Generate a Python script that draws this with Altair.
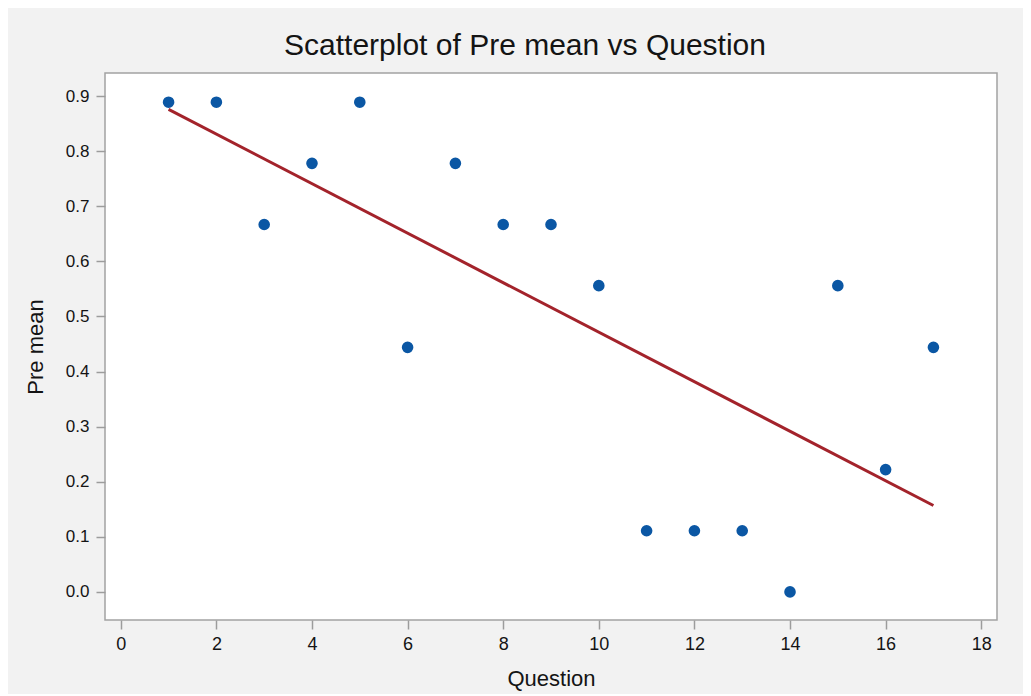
import altair as alt
import pandas as pd

# Data
questions = [1, 2, 3, 4, 5, 6, 7, 8, 9, 10, 11, 12, 13, 14, 15, 16, 17]
pre_mean = [0.889, 0.889, 0.667, 0.778, 0.889, 0.444, 0.778, 0.667, 0.667,
            0.556, 0.111, 0.111, 0.111, 0.0, 0.556, 0.222, 0.444]
x_ticks = [0, 2, 4, 6, 8, 10, 12, 14, 16, 18]
y_ticks = [0.0, 0.1, 0.2, 0.3, 0.4, 0.5, 0.6, 0.7, 0.8, 0.9]

df = pd.DataFrame({"Question": questions, "Pre mean": pre_mean})

FONT = "Liberation Sans"
TEXT = "#141414"

x_enc = alt.X(
    "Question:Q",
    scale=alt.Scale(domain=[-0.33, 18.33], nice=False, zero=False),
    axis=alt.Axis(values=x_ticks, title="Question", titleX=446, titleY=65,
                  titleBaseline="alphabetic", titleAlign="center"),
)
y_enc = alt.Y(
    "Pre mean:Q",
    scale=alt.Scale(domain=[-0.051, 0.942], nice=False, zero=False),
    axis=alt.Axis(values=y_ticks, format=".1f", title="Pre mean", titleAngle=-90,
                  titleX=-63, titleY=273.5, titleBaseline="alphabetic",
                  titleAlign="center"),
)

base = alt.Chart(df)

fit = base.transform_regression("Question", "Pre mean").mark_line(
    color="#a3232b", strokeWidth=3
).encode(x=x_enc, y=y_enc)

points = base.mark_circle(size=135, color="#0b57a4", opacity=1).encode(
    x=x_enc, y=y_enc
)

chart = (
    alt.layer(fit, points)
    .properties(
        width=892,
        height=547,
        autosize=alt.AutoSizeParams(type="none"),
        padding={"left": 97, "top": 65, "right": 26, "bottom": 74},
        title=alt.TitleParams(
            text="Scatterplot of Pre mean vs Question",
            font=FONT, fontSize=30, fontWeight="normal", color=TEXT,
            anchor="middle", frame="group", dx=-26, dy=30, offset=18,
            baseline="alphabetic",
        ),
    )
    .configure(background="#f2f2f2")
    .configure_view(stroke="#a3a3a3", strokeWidth=1.5, fill="white")
    .configure_axis(
        labelFont=FONT, labelFontSize=18, labelColor=TEXT, labelPadding=6,
        tickColor="#9c9c9c", tickWidth=1.5, tickSize=9,
        domain=False, grid=False,
        titleFont=FONT, titleFontSize=22, titleFontWeight="normal", titleColor=TEXT,
    )
    .configure_axisY(labelFontSize=17, labelPadding=7)
)

chart.save("out.html", embed_options={"renderer": "svg", "actions": False})
